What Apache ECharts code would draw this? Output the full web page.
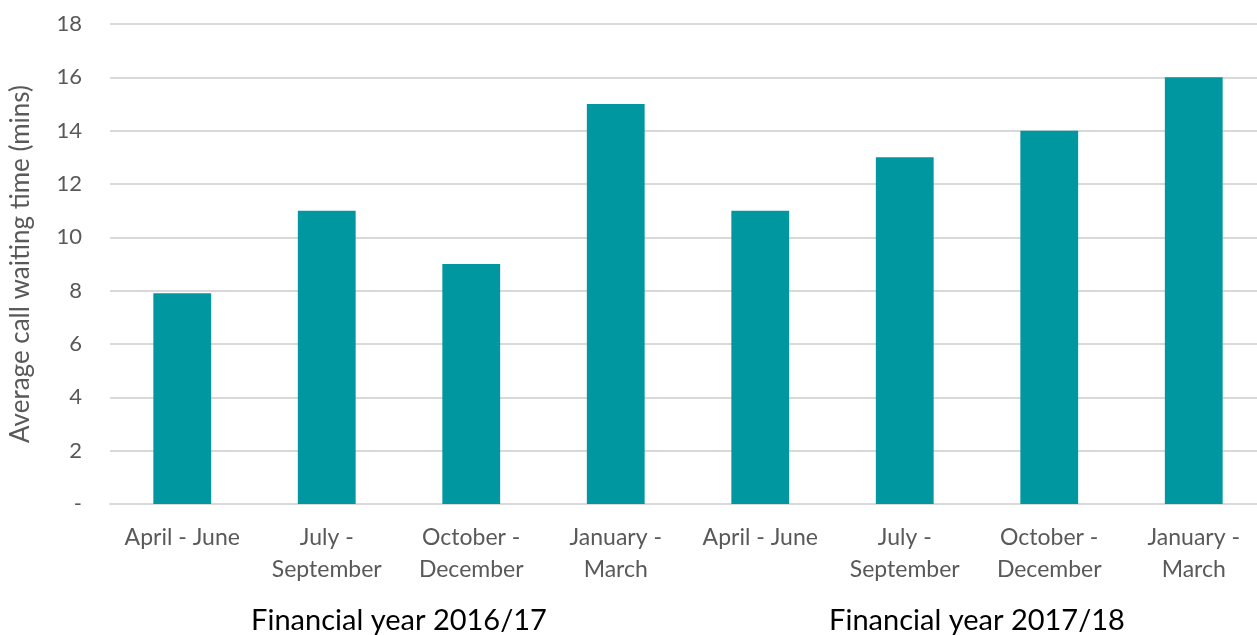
<!DOCTYPE html>
<html>
<head>
<meta charset="utf-8">
<style>
  html, body { margin: 0; padding: 0; background: #fff; overflow: hidden; }
  #chart { width: 1266px; height: 635px; }
</style>
<script src="https://cdn.jsdelivr.net/npm/echarts@6/dist/echarts.min.js"></script>
</head>
<body>
<div id="chart"></div>
<script>
const quarters = ['April - June', 'July -\nSeptember', 'October -\nDecember', 'January -\nMarch',
                  'April - June', 'July -\nSeptember', 'October -\nDecember', 'January -\nMarch'];
const waitMins = [7.9, 11, 9, 15, 11, 13, 14, 16];
const years = ['Financial year 2016/17', 'Financial year 2017/18'];

// plot area runs a little past the right edge of the window, like the original
var chart = echarts.init(document.getElementById('chart'));

const fontName = 'Lato';

var option = {
  animation: false,
  grid: { left: 109, right: 0, top: 24, bottom: 131 },
  xAxis: [
    {
      type: 'category',
      data: quarters,
      axisLine: { lineStyle: { color: '#d9d9d9', width: 2 } },
      axisTick: { length: 8, lineStyle: { color: '#d9d9d9', width: 2 } },
      axisLabel: {
        interval: 0, margin: 18, fontFamily: fontName, fontSize: 23,
        color: '#595959', lineHeight: 32
      }
    },
    {
      type: 'category',
      data: years,
      position: 'bottom',
      axisLine: { show: false },
      axisTick: { show: false },
      axisLabel: { margin: 102, fontFamily: fontName, fontSize: 29, color: '#000' }
    }
  ],
  yAxis: {
    type: 'value',
    min: 0, max: 18, interval: 2,
    name: 'Average call waiting time (mins)',
    nameLocation: 'middle',
    nameGap: 76,
    nameTextStyle: { fontFamily: fontName, fontSize: 26, color: '#595959' },
    axisLine: { show: false },
    axisTick: { show: false },
    axisLabel: {
      margin: 28, fontFamily: fontName, fontSize: 22, color: '#595959',
      formatter: v => v === 0 ? '-' : v
    },
    splitLine: { lineStyle: { color: '#d9d9d9', width: 2 } }
  },
  series: [
    {
      type: 'bar',
      data: waitMins,
      barWidth: '40%',
      itemStyle: { color: '#0097a0' }
    }
  ]
};

chart.setOption(option);
</script>
</body>
</html>
